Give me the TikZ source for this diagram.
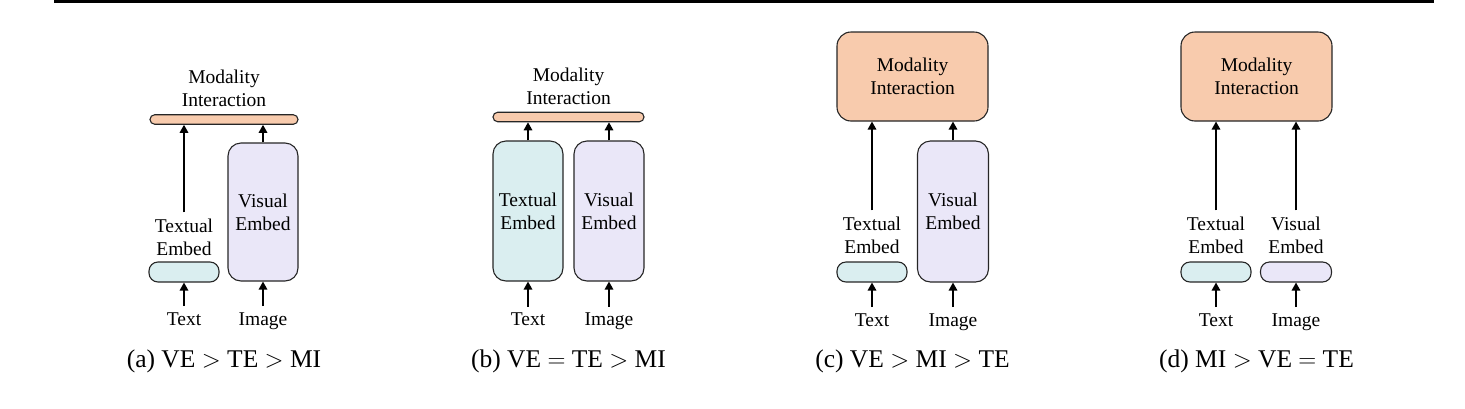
\documentclass[tikz,border=0pt]{standalone}
\usepackage{fontspec}
\setmainfont{Liberation Serif}
\usetikzlibrary{arrows.meta}
\definecolor{miorange}{HTML}{F8CBAD}
\definecolor{teafill}{HTML}{DAEEF0}
\definecolor{visfill}{HTML}{EAE7F8}
\newcommand\lblfont{\rmfamily\fontsize{19.5}{23}\selectfont}
\newcommand\capfont{\rmfamily\fontsize{25.5}{30}\selectfont}
\begin{document}
\begin{tikzpicture}[x=1pt,y=-1pt,
  bx/.style={draw=black!85, line width=1.1pt, inner sep=0pt, align=center, font=\lblfont},
  barbox/.style={bx, fill=miorange, minimum height=9.5pt, rounded corners=4.7pt},
  mibox/.style={bx, fill=miorange, minimum width=151pt, minimum height=89pt, rounded corners=14pt},
  tsmall/.style={bx, fill=teafill, minimum width=70pt, minimum height=20pt, rounded corners=9pt},
  vsmall/.style={bx, fill=visfill, minimum width=71pt, minimum height=20pt, rounded corners=9pt},
  tbig/.style={bx, fill=teafill, minimum width=70pt, rounded corners=13pt},
  vbig/.style={bx, fill=visfill, minimum width=70pt, rounded corners=13pt},
  lbl/.style={align=center, font=\lblfont, inner sep=6pt},
  inlbl/.style={lbl, anchor=base},
  captext/.style={font=\capfont, anchor=base, inner sep=0pt},
  arr/.style={line width=1.6pt, -{Triangle[length=8pt,width=8.5pt]}}
]
\useasboundingbox (0,0) rectangle (1465,408);
\draw[line width=3pt] (54,1.5) -- (1434,1.5);

% ---------- (a)
\node[lbl] (miA) at (224,88) {Modality\\Interaction};
\node[barbox, minimum width=148pt] (barA) at (224,119.5) {};
\node[tsmall] (tA) at (184,272) {};
\node[lbl] (tlA) at (184,237) {Textual\\Embed};
\node[vbig, minimum height=138pt] (vA) at (263,212) {Visual\\Embed};
\node[inlbl] (textA) at (184,325) {Text};
\node[inlbl] (imgA) at (263,325) {Image};
\draw[arr] (textA.north) -- (tA.south);
\draw[arr] (imgA.north) -- (vA.south);
\draw[arr] (tlA.north) -- (tlA.north |- barA.south);
\draw[arr] (vA.north) -- (vA.north |- barA.south);
\node[captext] (capA) at (224,367) {(a) VE $>$ TE $>$ MI};

% ---------- (b)
\node[lbl] (miB) at (568.5,86) {Modality\\Interaction};
\node[barbox, minimum width=151pt] (barB) at (568.5,117) {};
\node[tbig, minimum height=140pt] (tB) at (528,211) {Textual\\Embed};
\node[vbig, minimum height=140pt] (vB) at (609,211) {Visual\\Embed};
\node[inlbl] (textB) at (528,325.5) {Text};
\node[inlbl] (imgB) at (609,325.5) {Image};
\draw[arr] (textB.north) -- (tB.south);
\draw[arr] (imgB.north) -- (vB.south);
\draw[arr] (tB.north) -- (tB.north |- barB.south);
\draw[arr] (vB.north) -- (vB.north |- barB.south);
\node[captext] (capB) at (568.5,367) {(b) VE $=$ TE $>$ MI};

% ---------- (c)
\node[mibox] (miC) at (912.5,76.5) {Modality\\Interaction};
\node[tsmall] (tC) at (872,272) {};
\node[lbl] (tlC) at (872,235) {Textual\\Embed};
\node[vbig, minimum width=71pt, minimum height=141pt] (vC) at (953,211.5) {Visual\\Embed};
\node[inlbl] (textC) at (872,326) {Text};
\node[inlbl] (imgC) at (953,326) {Image};
\draw[arr] (textC.north) -- (tC.south);
\draw[arr] (imgC.north) -- (vC.south);
\draw[arr] (tlC.north) -- (tlC.north |- miC.south);
\draw[arr] (vC.north) -- (vC.north |- miC.south);
\node[captext] (capC) at (912.5,367) {(c) VE $>$ MI $>$ TE};

% ---------- (d)
\node[mibox] (miD) at (1256.5,76.5) {Modality\\Interaction};
\node[tsmall] (tD) at (1216,272) {};
\node[vsmall] (vD) at (1296,272) {};
\node[lbl] (tlD) at (1216,235) {Textual\\Embed};
\node[lbl] (vlD) at (1296,235) {Visual\\Embed};
\node[inlbl] (textD) at (1216,326) {Text};
\node[inlbl] (imgD) at (1296,326) {Image};
\draw[arr] (textD.north) -- (tD.south);
\draw[arr] (imgD.north) -- (vD.south);
\draw[arr] (tlD.north) -- (tlD.north |- miD.south);
\draw[arr] (vlD.north) -- (vlD.north |- miD.south);
\node[captext] (capD) at (1256.5,367) {(d) MI $>$ VE $=$ TE};
\end{tikzpicture}
\end{document}
